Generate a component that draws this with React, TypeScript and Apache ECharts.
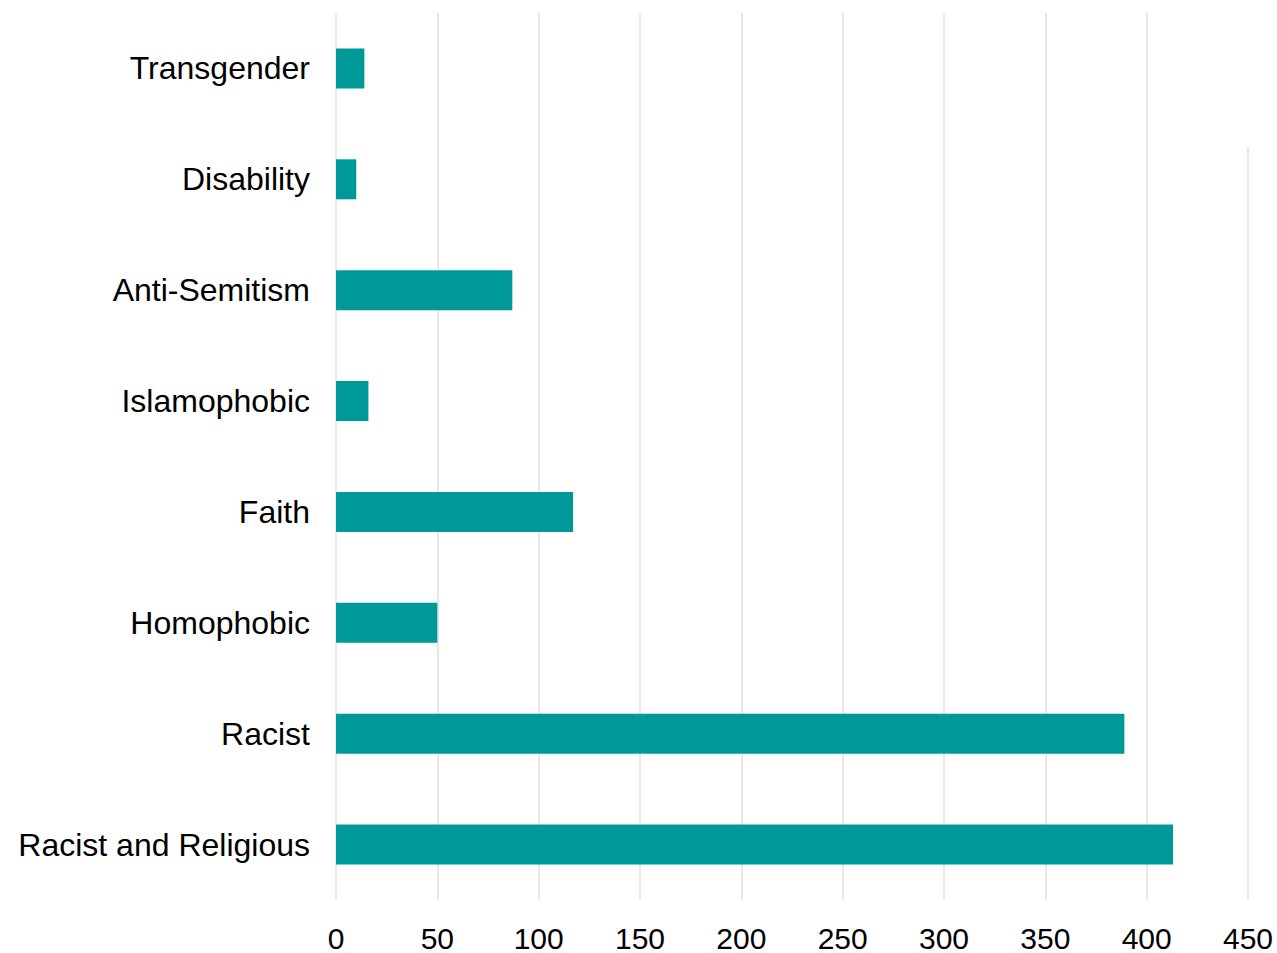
import React, { useEffect, useRef } from "react";
import * as echarts from "echarts";

const categories = [
  "Transgender",
  "Disability",
  "Anti-Semitism",
  "Islamophobic",
  "Faith",
  "Homophobic",
  "Racist",
  "Racist and Religious",
];
const values = [14, 10, 87, 16, 117, 50, 389, 413];
const xTicks = [0, 50, 100, 150, 200, 250, 300, 350, 400, 450];

export default function App() {
  const ref = useRef<HTMLDivElement>(null);
  useEffect(() => {
    if (!ref.current) return;
    const chart = echarts.init(ref.current, undefined, { renderer: "svg" });
    chart.setOption({
      animation: false,
      backgroundColor: "#ffffff",
      grid: { left: 336, right: 29, top: 13, bottom: 53, containLabel: false },
      xAxis: {
        type: "value",
        min: xTicks[0],
        max: xTicks[xTicks.length - 1],
        interval: 50,
        axisLine: { show: false },
        axisTick: { show: false },
        axisLabel: {
          color: "#000000",
          fontFamily: "Liberation Sans, Arial, sans-serif",
          fontSize: 30,
          lineHeight: 30,
          margin: 23,
        },
        splitLine: { show: true, lineStyle: { color: "#e8e8e8", width: 2 } },
      },
      yAxis: {
        type: "category",
        data: categories,
        inverse: true,
        axisLine: { show: false },
        axisTick: { show: false },
        axisLabel: {
          color: "#000000",
          fontFamily: "Liberation Sans, Arial, sans-serif",
          fontSize: 32,
          margin: 26,
        },
      },
      graphic: [
        {
          type: "rect",
          z: 100,
          shape: { x: 1238, y: 0, width: 20, height: 147 },
          style: { fill: "#ffffff" },
        },
      ],
      series: [
        {
          type: "bar",
          data: values,
          barWidth: 40,
          itemStyle: { color: "#009999" },
        },
      ],
    });
    return () => chart.dispose();
  }, []);
  return (
    <div
      ref={ref}
      style={{ position: "absolute", left: 0, top: 0, width: 1277, height: 953 }}
    />
  );
}
